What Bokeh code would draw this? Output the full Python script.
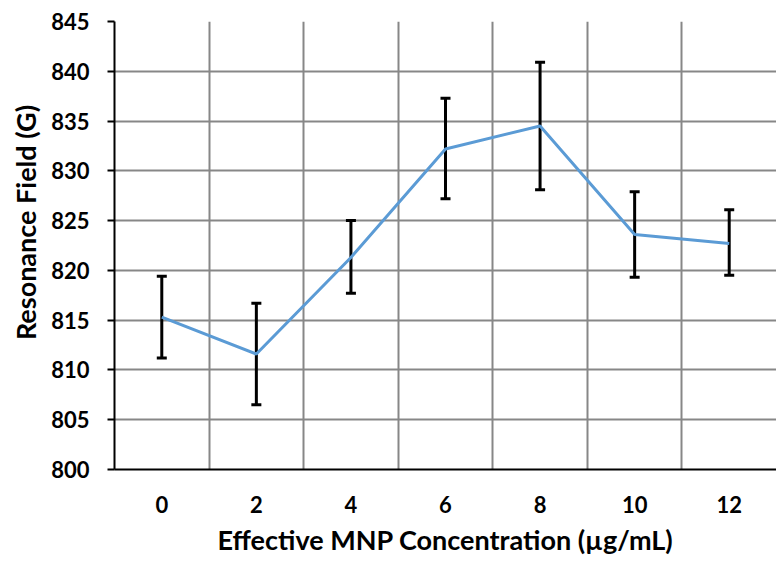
from bokeh.plotting import figure
from bokeh.models import FixedTicker, ColumnDataSource, Whisker
from bokeh.embed import file_html
from bokeh.resources import INLINE

concentration = [0, 2, 4, 6, 8, 10, 12]
tick_labels = ["0", "2", "4", "6", "8", "10", "12"]
resonance = [815.3, 811.6, 821.3, 832.2, 834.5, 823.6, 822.7]
err_upper = [819.4, 816.7, 825.0, 837.3, 840.9, 827.9, 826.1]
err_lower = [811.2, 806.5, 817.7, 827.2, 828.1, 819.3, 819.5]

FONT = "Lato"

p = figure(width=776, height=558, output_backend="svg", toolbar_location=None,
           x_range=(-1, 13), y_range=(800, 845),
           min_border_left=114, min_border_right=0, min_border_top=21, min_border_bottom=89)
p.outline_line_color = None
p.background_fill_color = "white"

src = ColumnDataSource(dict(x=concentration, y=resonance, upper=err_upper, lower=err_lower))

# grid
p.xgrid.ticker = FixedTicker(ticks=[1, 3, 5, 7, 9, 11, 13])
p.xgrid.grid_line_color = "#878787"
p.xgrid.grid_line_width = 2
p.ygrid.grid_line_color = "#878787"
p.ygrid.grid_line_width = 2

# axes
p.xaxis.ticker = FixedTicker(ticks=concentration)
p.xaxis.major_label_overrides = {c: l for c, l in zip(concentration, tick_labels)}
p.xaxis.major_tick_line_color = None
p.xaxis.minor_tick_line_color = None
p.xaxis.axis_line_color = "black"
p.xaxis.axis_line_width = 2
p.xaxis.major_label_standoff = 20
p.xaxis.axis_label = "Effective MNP Concentration (µg/mL)"
p.xaxis.axis_label_standoff = 7

p.yaxis.ticker = FixedTicker(ticks=list(range(800, 846, 5)))
p.yaxis.minor_tick_line_color = None
p.yaxis.major_tick_in = 0
p.yaxis.major_tick_out = 7
p.yaxis.major_tick_line_width = 2
p.yaxis.axis_line_color = "black"
p.yaxis.axis_line_width = 2
p.yaxis.major_label_standoff = 18
p.yaxis.axis_label = "\u00a0" * 7 + "Resonance Field (G)"
p.yaxis.axis_label_standoff = 6

for ax in (p.xaxis, p.yaxis):
    ax.major_label_text_font = FONT
    ax.major_label_text_font_style = "bold"
    ax.major_label_text_font_size = "22px"
    ax.major_label_text_color = "black"
    ax.axis_label_text_font = FONT
    ax.axis_label_text_font_style = "bold"
    ax.axis_label_text_font_size = "27px"
    ax.axis_label_text_color = "black"

p.line("x", "y", source=src, line_color="#5b9bd5", line_width=3)

w = Whisker(base="x", upper="upper", lower="lower", source=src,
            line_color="black", line_width=3)
w.upper_head.size = 10
w.lower_head.size = 10
w.upper_head.line_width = 3
w.lower_head.line_width = 3
w.upper_head.line_color = "black"
w.lower_head.line_color = "black"
p.add_layout(w)

open("out.html", "w").write(file_html(p, INLINE))
